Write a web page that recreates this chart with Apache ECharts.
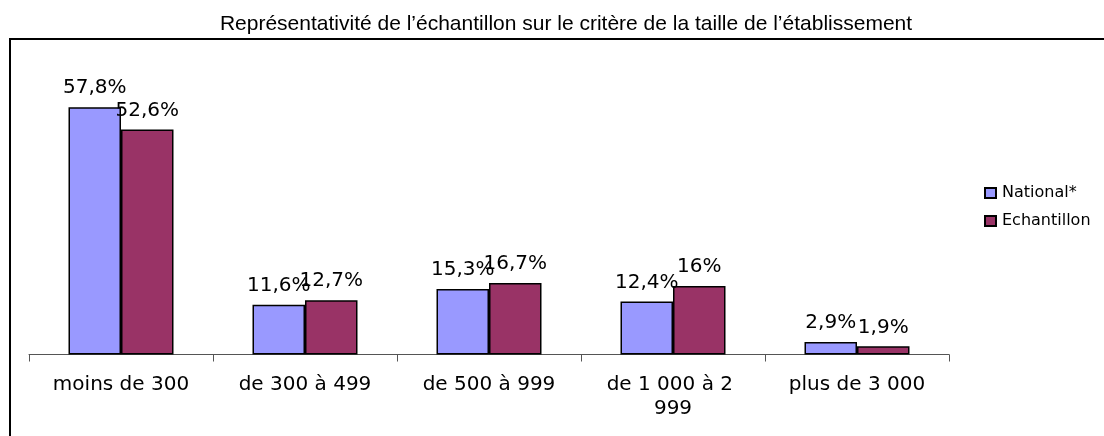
<!DOCTYPE html>
<html>
<head>
<meta charset="utf-8">
<script src="https://cdn.jsdelivr.net/npm/echarts@6/dist/echarts.min.js"></script>
<style>
  html, body { margin: 0; padding: 0; background: #ffffff; }
  #chart { width: 1104px; height: 436px; }
</style>
</head>
<body>
<div id="chart"></div>
<script>
// Tailles d'établissement (catégories de l'axe horizontal)
const categories = ['moins de 300', 'de 300 à 499', 'de 500 à 999', 'de 1 000 à 2 999', 'plus de 3 000'];
// Part des établissements, en %
const nationalValues = [57.8, 11.6, 15.3, 12.4, 2.9];
const echantillonValues = [52.6, 12.7, 16.7, 16, 1.9];
const seriesNames = ['National*', 'Echantillon'];
const titleText = 'Représentativité de l’échantillon sur le critère de la taille de l’établissement';

const chart = echarts.init(document.getElementById('chart'), null, { renderer: 'canvas' });

// Libellé des valeurs au format français : virgule décimale
const fmtPct = p => String(p.value).replace('.', ',') + '%';

const labelStyle = {
  show: true,
  position: 'top',
  distance: 9,
  formatter: fmtPct,
  fontFamily: 'DejaVu Sans',
  fontSize: 20,
  color: '#000000'
};

chart.setOption({
  animation: false,
  backgroundColor: '#ffffff',
  title: {
    text: titleText,
    left: 561,
    textAlign: 'center',
    top: 9,
    textStyle: {
      fontFamily: 'Liberation Sans',
      fontSize: 21,
      fontWeight: 'normal',
      color: '#000000'
    }
  },
  graphic: [{
    type: 'rect',
    shape: { x: 10, y: 39, width: 1200, height: 500 },
    style: { fill: 'none', stroke: '#000000', lineWidth: 2 },
    silent: true,
    z: -1
  }],
  legend: {
    orient: 'vertical',
    left: 979,
    top: 180,
    icon: 'rect',
    itemWidth: 11,
    itemHeight: 10,
    itemGap: 12,
    textStyle: {
      fontFamily: 'DejaVu Sans',
      fontSize: 16,
      color: '#000000',
      padding: [0, 0, 0, 1]
    },
    data: seriesNames
  },
  grid: {
    left: 29,
    right: 155,
    top: 55,
    bottom: 81.5,
    containLabel: false
  },
  xAxis: {
    type: 'category',
    data: categories,
    axisLine: { show: true, lineStyle: { color: '#555555', width: 1 } },
    axisTick: { show: true, length: 7, alignWithLabel: false, lineStyle: { color: '#555555' } },
    axisLabel: {
      margin: 18,
      fontFamily: 'DejaVu Sans',
      fontSize: 20,
      lineHeight: 24,
      color: '#000000',
      width: 150,
      overflow: 'break',
      interval: 0
    }
  },
  yAxis: {
    type: 'value',
    min: 0,
    max: 70,
    interval: 10,
    show: false,
    splitLine: { show: false }
  },
  series: [
    {
      name: seriesNames[0],
      type: 'bar',
      data: nationalValues,
      barWidth: 52.5,
      barGap: '0%',
      itemStyle: { color: '#9999FF', borderColor: '#000000', borderWidth: 1.5 },
      label: labelStyle
    },
    {
      name: seriesNames[1],
      type: 'bar',
      data: echantillonValues,
      barWidth: 52.5,
      barGap: '0%',
      itemStyle: { color: '#993366', borderColor: '#000000', borderWidth: 1.5 },
      label: labelStyle
    }
  ]
});
</script>
</body>
</html>
